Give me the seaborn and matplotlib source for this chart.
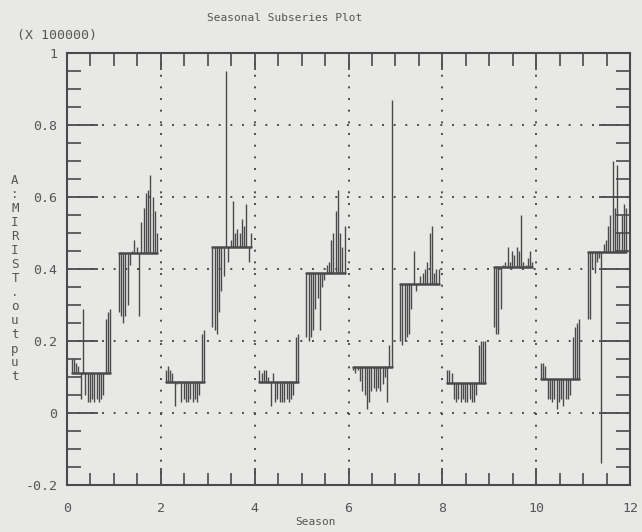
import numpy as np
import pandas as pd
import matplotlib
matplotlib.use("Agg")
import matplotlib.pyplot as plt
import seaborn as sns
from matplotlib.ticker import MultipleLocator, FixedLocator

# ---------------- data (units of 100000) ----------------
seasons = list(range(1, 13))
season_level = [0.110, 0.445, 0.086, 0.460, 0.087, 0.390,
                0.128, 0.357, 0.083, 0.405, 0.095, 0.448]

s1 = [0.15, 0.15, 0.14, 0.13, 0.04, 0.29, 0.05, 0.03, 0.03, 0.04, 0.03, 0.04,
      0.03, 0.04, 0.05, 0.26, 0.28, 0.29]
s2 = [0.28, 0.27, 0.25, 0.27, 0.30, 0.41, 0.45, 0.48, 0.46, 0.27, 0.53, 0.57,
      0.61, 0.62, 0.66, 0.60, 0.56, 0.50]
s3 = [0.12, 0.13, 0.12, 0.11, 0.02, 0.08, 0.09, 0.03, 0.04, 0.03, 0.03, 0.04,
      0.03, 0.04, 0.03, 0.05, 0.22, 0.23]
s4 = [0.24, 0.23, 0.22, 0.28, 0.34, 0.38, 0.95, 0.42, 0.48, 0.59, 0.50, 0.51,
      0.50, 0.54, 0.52, 0.58, 0.42, 0.50]
s5 = [0.12, 0.11, 0.12, 0.12, 0.10, 0.02, 0.11, 0.03, 0.04, 0.03, 0.03, 0.03,
      0.04, 0.03, 0.04, 0.05, 0.21, 0.22]
s6 = [0.21, 0.20, 0.21, 0.23, 0.29, 0.32, 0.23, 0.35, 0.37, 0.41, 0.42, 0.48,
      0.50, 0.56, 0.62, 0.50, 0.46, 0.52]
s7 = [0.12, 0.11, 0.12, 0.09, 0.06, 0.05, 0.01, 0.03, 0.06, 0.07, 0.06, 0.07,
      0.06, 0.08, 0.10, 0.03, 0.19, 0.87]
s8 = [0.20, 0.19, 0.20, 0.21, 0.22, 0.29, 0.45, 0.34, 0.36, 0.38, 0.39, 0.40,
      0.42, 0.50, 0.52, 0.39, 0.40, 0.40]
s9 = [0.12, 0.12, 0.11, 0.04, 0.03, 0.04, 0.03, 0.04, 0.03, 0.03, 0.04, 0.03,
      0.03, 0.05, 0.19, 0.20, 0.20, 0.20]
s10 = [0.24, 0.22, 0.22, 0.29, 0.41, 0.42, 0.46, 0.42, 0.45, 0.44, 0.46, 0.45,
       0.55, 0.42, 0.41, 0.43, 0.45, 0.42]
s11 = [0.14, 0.14, 0.13, 0.04, 0.04, 0.03, 0.04, 0.01, 0.03, 0.04, 0.02, 0.04,
       0.04, 0.05, 0.21, 0.24, 0.25, 0.26]
s12 = [0.26, 0.26, 0.40, 0.39, 0.42, 0.43, -0.14, 0.47, 0.48, 0.52, 0.55, 0.70,
       0.57, 0.69, 0.50, 0.55, 0.58, 0.57]
season_values = [s1, s2, s3, s4, s5, s6, s7, s8, s9, s10, s11, s12]

x_ticks = [0, 2, 4, 6, 8, 10, 12]
x_tick_labels = ["0", "2", "4", "6", "8", "10", "12"]
y_ticks = [-0.2, 0, 0.2, 0.4, 0.6, 0.8, 1.0]
y_tick_labels = ["-0.2", "0", "0.2", "0.4", "0.6", "0.8", "1"]

title = "Seasonal Subseries Plot"
x_label = "Season"
y_label = "A:MIRIST.output"
scale_note = "(X 100000)"

# ---------------- build long-form tables ----------------
start_off, end_off = 0.10, 0.92
stick_rows, level_rows = [], []
for k, lvl, vals in zip(seasons, season_level, season_values):
    n = len(vals)
    xs = (k - 1) + start_off + (end_off - start_off) * np.arange(n) / (n - 1)
    for xv, v in zip(xs, vals):
        stick_rows.append({"season": k, "x": xv, "level": lvl, "value": v})
    level_rows.append({"season": k, "x": xs[0], "level": lvl})
    level_rows.append({"season": k, "x": xs[-1], "level": lvl})
sticks = pd.DataFrame(stick_rows)
levels = pd.DataFrame(level_rows)

# ---------------- style ----------------
sns.set_theme(style="ticks")
plt.rcParams['font.family'] = ['DejaVu Sans Mono', 'DejaVu Sans']
ink = "#4a4a4a"
txt = "#555555"
bg = "#e8e8e6"

fig = plt.figure(figsize=(6.42, 5.32), dpi=100, facecolor=bg)
ax = fig.add_axes([67 / 642, 1 - 485 / 532, (630 - 67) / 642, (485 - 53) / 532])
ax.set_facecolor(bg)

# dotted grid at major ticks (interior only)
for yv in y_ticks[1:-1]:
    ax.axhline(yv, color=ink, lw=1.4, ls=(0, (1, 5)), zorder=1)
for xv in x_ticks[1:-1]:
    ax.axvline(xv, color=ink, lw=1.4, ls=(0, (1, 5)), zorder=1)

# sticks from seasonal level to each value
ax.vlines(sticks["x"], sticks["level"], sticks["value"], color=ink, lw=1.0, zorder=2)

# seasonal level segments
sns.lineplot(data=levels, x="x", y="level", units="season", estimator=None,
             sort=False, color=ink, lw=1.8, ax=ax, zorder=3, legend=False)

ax.set_xlim(0, 12)
ax.set_ylim(-0.2, 1.0)
ax.xaxis.set_major_locator(FixedLocator(x_ticks))
ax.set_xticklabels(x_tick_labels)
ax.yaxis.set_major_locator(FixedLocator(y_ticks))
ax.set_yticklabels(y_tick_labels)
ax.xaxis.set_minor_locator(MultipleLocator(0.5))
ax.yaxis.set_minor_locator(MultipleLocator(0.05))

ax.tick_params(which="both", direction="in", top=True, right=True, color=ink,
               labelcolor=txt, labelsize=9.5)
ax.tick_params(axis="y", which="major", length=22, width=1.3, pad=7)
ax.tick_params(axis="y", which="minor", length=10, width=1.2)
ax.tick_params(axis="x", which="major", length=12, width=1.3, pad=12)
ax.tick_params(axis="x", which="minor", length=9, width=1.2)
for sp in ax.spines.values():
    sp.set_color(ink)
    sp.set_linewidth(1.5)
ax.set_xlabel("")
ax.set_ylabel("")

fig.text(285 / 642, 1 - 18 / 532, title, ha="center", va="center",
         fontsize=8, color=txt)
fig.text(57 / 642, 1 - 36 / 532, scale_note, ha="center", va="center",
         fontsize=9.5, color=txt)
fig.text(315 / 642, 1 - 522 / 532, x_label, ha="center", va="center",
         fontsize=8, color=txt)
fig.text(15 / 642, 1 - 279 / 532, "\n".join(y_label), ha="center", va="center",
         fontsize=9, color=txt, linespacing=1.1)

fig.savefig("out.png", dpi=100, facecolor=bg)
